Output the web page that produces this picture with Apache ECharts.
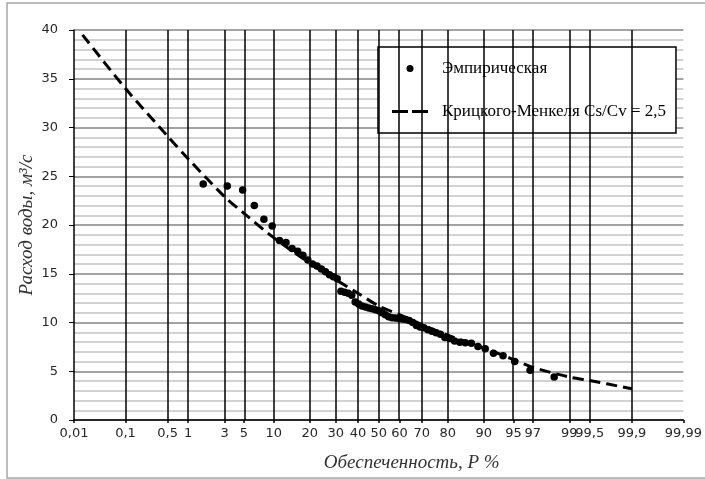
<!DOCTYPE html>
<html>
<head>
<meta charset="utf-8">
<script src="https://cdn.jsdelivr.net/npm/echarts@6/dist/echarts.min.js"></script>
<style>
  html, body { margin: 0; padding: 0; background: #fff; }
  #chart { width: 705px; height: 479px; }
</style>
</head>
<body>
<div id="chart"></div>
<script>
// Probability-paper tick positions (exceedance probability, %) and their labels
const probTicks = [0.01, 0.1, 0.5, 1, 3, 5, 10, 20, 30, 40, 50, 60, 70, 80, 90, 95, 97, 99, 99.5, 99.9, 99.99];
const probLabels = ['0,01', '0,1', '0,5', '1', '3', '5', '10', '20', '30', '40', '50', '60', '70', '80', '90', '95', '97', '99', '99,5', '99,9', '99,99'];

// Empirical exceedance probabilities (%) and discharges (m3/s)
const empiricalP = [1.61, 3.23, 4.84, 6.45, 8.06, 9.68, 11.29, 12.90, 14.52, 16.13, 17.74, 19.35, 20.97, 22.58, 24.19, 25.81, 27.42, 29.03, 30.65, 32.26, 33.87, 35.48, 37.10, 38.71, 40.32, 41.94, 43.55, 45.16, 46.77, 48.39, 50.00, 51.61, 53.23, 54.84, 56.45, 58.06, 59.68, 61.29, 62.90, 64.52, 66.13, 67.74, 69.35, 70.97, 72.58, 74.19, 75.81, 77.42, 79.03, 80.65, 82.26, 83.87, 85.48, 87.10, 88.71, 90.32, 91.94, 93.55, 95.16, 96.77, 98.39];
const empiricalQ = [24.2, 24.0, 23.6, 22.0, 20.6, 19.9, 18.4, 18.2, 17.6, 17.3, 16.9, 16.4, 16.0, 15.8, 15.5, 15.2, 14.9, 14.7, 14.5, 13.2, 13.1, 13.0, 12.8, 12.1, 11.9, 11.7, 11.6, 11.5, 11.4, 11.3, 11.2, 11.0, 10.8, 10.6, 10.5, 10.45, 10.4, 10.35, 10.3, 10.2, 10.0, 9.7, 9.55, 9.45, 9.25, 9.1, 8.95, 8.8, 8.45, 8.35, 8.1, 7.97, 7.93, 7.86, 7.55, 7.3, 6.85, 6.6, 6.0, 5.1, 4.4];

// Kritsky-Menkel analytical curve, Cs/Cv = 2.5
const curveP = [0.015, 0.1, 0.5, 1, 3, 5, 10, 20, 30, 40, 50, 60, 70, 80, 90, 95, 97, 99, 99.5, 99.9];
const curveQ = [39.5, 34.0, 29.1, 26.8, 22.9, 21.2, 18.7, 16.1, 14.4, 13.0, 11.7, 10.8, 9.8, 8.7, 7.4, 6.2, 5.4, 4.4, 4.05, 3.2];

const empiricalName = 'Эмпирическая';
const curveName = 'Крицкого-Менкеля Cs/Cv = 2,5';

// Inverse standard normal CDF (Acklam) -- maps a probability to the probability-paper axis
function normInv(p) {
  const a = [-3.969683028665376e+01, 2.209460984245205e+02, -2.759285104469687e+02, 1.383577518672690e+02, -3.066479806614716e+01, 2.506628277459239e+00];
  const b = [-5.447609879822406e+01, 1.615858368580409e+02, -1.556989798598866e+02, 6.680131188771972e+01, -1.328068155288572e+01];
  const c = [-7.784894002430293e-03, -3.223964580411365e-01, -2.400758277161838e+00, -2.549732539343734e+00, 4.374664141464968e+00, 2.938163982698783e+00];
  const d = [7.784695709041462e-03, 3.224671290700398e-01, 2.445134137142996e+00, 3.754408661907416e+00];
  const plow = 0.02425, phigh = 1 - plow;
  let q, r;
  if (p < plow) {
    q = Math.sqrt(-2 * Math.log(p));
    return (((((c[0] * q + c[1]) * q + c[2]) * q + c[3]) * q + c[4]) * q + c[5]) /
           ((((d[0] * q + d[1]) * q + d[2]) * q + d[3]) * q + 1);
  }
  if (p <= phigh) {
    q = p - 0.5; r = q * q;
    return (((((a[0] * r + a[1]) * r + a[2]) * r + a[3]) * r + a[4]) * r + a[5]) * q /
           (((((b[0] * r + b[1]) * r + b[2]) * r + b[3]) * r + b[4]) * r + 1);
  }
  q = Math.sqrt(-2 * Math.log(1 - p));
  return -(((((c[0] * q + c[1]) * q + c[2]) * q + c[3]) * q + c[4]) * q + c[5]) /
          ((((d[0] * q + d[1]) * q + d[2]) * q + d[3]) * q + 1);
}
const toAxis = pct => normInv(pct / 100);

const tickPos = probTicks.map(toAxis);
const labelFor = v => {
  let best = 0;
  tickPos.forEach((t, i) => { if (Math.abs(t - v) < Math.abs(tickPos[best] - v)) best = i; });
  return probLabels[best];
};

const empiricalData = empiricalP.map((p, i) => [toAxis(p), empiricalQ[i]]);
const curveData = curveP.map((p, i) => [toAxis(p), curveQ[i]]);

const serif = 'Liberation Serif';
const sans = 'DejaVu Sans';

const chart = echarts.init(document.getElementById('chart'), null, { renderer: 'canvas' });
chart.setOption({
  animation: false,
  color: ['#000'],
  grid: { left: 74, right: 17, top: 30, bottom: 59, containLabel: false },
  graphic: [{
    type: 'rect', silent: true, z: -10,
    shape: { x: 7, y: 3, width: 710, height: 475 },
    style: { fill: 'none', stroke: '#a6a6a6', lineWidth: 1.5 }
  }],
  legend: {
    orient: 'vertical',
    left: 378, top: 47,
    padding: [12, 10, 12, 14],
    itemGap: 24,
    itemWidth: 36, itemHeight: 7,
    borderColor: '#000', borderWidth: 1.5,
    backgroundColor: '#fff',
    textStyle: { fontFamily: serif, fontSize: 17, color: '#000', padding: [0, 0, 0, 9], lineHeight: 19 },
    data: [
      { name: empiricalName, icon: 'circle' },
      { name: curveName, icon: 'path://M0,0h16v3h-16z M20,0h16v3h-16z' }
    ]
  },
  xAxis: {
    type: 'value',
    min: toAxis(0.01), max: toAxis(99.99),
    splitLine: { show: false },
    axisLine: { show: true, onZero: false, lineStyle: { color: '#000', width: 1.5 } },
    axisTick: { show: true, customValues: tickPos, length: 3, lineStyle: { color: '#000', width: 1.5 } },
    axisLabel: {
      customValues: tickPos, formatter: v => labelFor(v),
      fontFamily: sans, fontSize: 13, color: '#262626', margin: 7, hideOverlap: false
    },
    name: 'Обеспеченность, P %',
    nameLocation: 'middle', nameGap: 33, nameMoveOverlap: false,
    nameTextStyle: { fontFamily: serif, fontStyle: 'italic', fontSize: 19, color: '#333', padding: [0, 0, 0, 66] }
  },
  yAxis: {
    type: 'value', min: 0, max: 40, interval: 5,
    axisLine: { show: true, onZero: false, lineStyle: { color: '#000', width: 1.5 } },
    axisTick: { show: true, length: 5, lineStyle: { color: '#000', width: 1 } },
    axisLabel: { fontFamily: sans, fontSize: 13, color: '#262626', margin: 16 },
    splitLine: { show: true, lineStyle: { color: '#858585', width: 1.5 } },
    minorTick: { show: false, splitNumber: 5 },
    minorSplitLine: { show: true, lineStyle: { color: '#c4c4c4', width: 1.5 } },
    name: 'Расход воды, м³/с',
    nameLocation: 'middle', nameGap: 38, nameMoveOverlap: false,
    nameTextStyle: { fontFamily: serif, fontStyle: 'italic', fontSize: 19, color: '#333' }
  },
  series: [
    {
      // vertical probability grid
      type: 'line', data: [], silent: true, z: 1,
      markLine: {
        silent: true, symbol: 'none', animation: false,
        label: { show: false },
        lineStyle: { color: '#000', width: 1.5, type: 'solid' },
        data: tickPos.map(x => ({ xAxis: x }))
      }
    },
    {
      name: curveName, type: 'line', data: curveData, z: 3,
      showSymbol: false, symbol: 'none', smooth: 0.3,
      lineStyle: { color: '#000', width: 3, type: [11, 6], cap: 'butt' }
    },
    {
      name: empiricalName, type: 'scatter', data: empiricalData, z: 4,
      symbol: 'circle', symbolSize: 7.5,
      itemStyle: { color: '#000', opacity: 1 }
    }
  ]
});
</script>
</body>
</html>
